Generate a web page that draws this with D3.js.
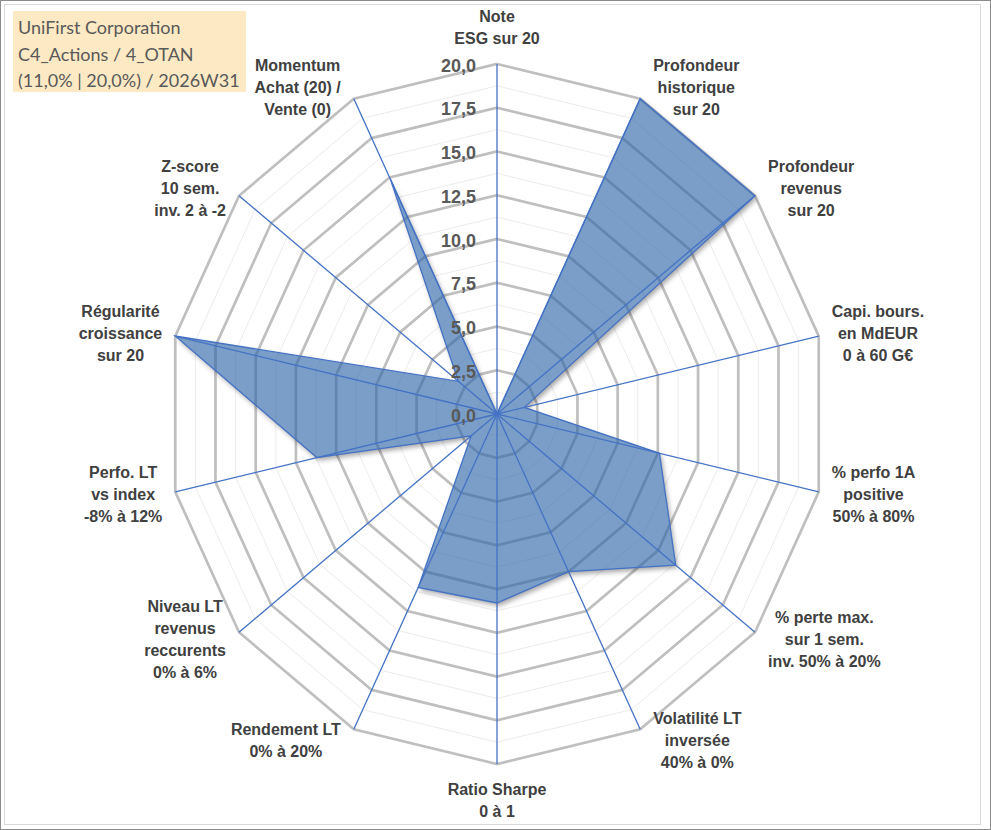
<!DOCTYPE html>
<html>
<head>
<meta charset="utf-8">
<script src="https://cdn.jsdelivr.net/npm/d3@7"></script>
<style>
  html, body { margin: 0; padding: 0; background: #fff; }
  svg { display: block; }
</style>
</head>
<body>
<svg id="chart" width="991" height="830"></svg>
<script>
// ---------------- DATA ----------------
const categories = [
  ["Note", "ESG sur 20"],
  ["Profondeur", "historique", "sur 20"],
  ["Profondeur", "revenus", "sur 20"],
  ["Capi. bours.", "en MdEUR", "0 à 60 G€"],
  ["% perfo 1A", "positive", "50% à 80%"],
  ["% perte max.", "sur 1 sem.", "inv. 50% à 20%"],
  ["Volatilité LT", "inversée", "40% à 0%"],
  ["Ratio Sharpe", "0 à 1"],
  ["Rendement LT", "0% à 20%"],
  ["Niveau LT", "revenus", "reccurents", "0% à 6%"],
  ["Perfo. LT", "vs index", "-8% à 12%"],
  ["Régularité", "croissance", "sur 20"],
  ["Z-score", "10 sem.", "inv. 2 à -2"],
  ["Momentum", "Achat (20) /", "Vente (0)"]
];
const values = [0, 20, 20, 1.7, 10.1, 13.85, 10.0, 10.8, 11.0, 2.0, 11.2, 20, 3.0, 14.9];
const tickValues = [0, 2.5, 5, 7.5, 10, 12.5, 15, 17.5, 20];
const minorStep = 1.25;
const titleLines = ["UniFirst Corporation", "C4_Actions / 4_OTAN", "(11,0% | 20,0%) / 2026W31"];

// ---------------- LAYOUT ----------------
const W = 991, H = 830;
const cx = 497, cy = 414, rx = 330, ry = 350;
const n = categories.length;
const svg = d3.select("#chart");
const fr = d3.formatLocale({decimal: ",", thousands: " ", grouping: [3], currency: ["", "€"]}).format(".1f");

const rScale = d3.scaleLinear().domain([0, 20]).range([0, 1]);
const aScale = d3.scaleLinear().domain([0, n]).range([0, 2 * Math.PI]);
const pt = (i, v) => {
  const a = aScale(i);
  return [cx + Math.sin(a) * rx * rScale(v), cy - Math.cos(a) * ry * rScale(v)];
};
const ring = d3.line().curve(d3.curveLinearClosed);

// frame
svg.append("rect").attr("x", 0.5).attr("y", 0.5).attr("width", W - 1).attr("height", H - 1)
  .attr("fill", "#fff").attr("stroke", "#8c8c8c").attr("stroke-width", 1);
svg.append("rect").attr("x", 4.5).attr("y", 4.5).attr("width", 976).attr("height", 820)
  .attr("fill", "none").attr("stroke", "#d9d9d9").attr("stroke-width", 1);

// shadow filter (shadow only outside the shape)
const defs = svg.append("defs");
const f = defs.append("filter").attr("id", "shadowOut").attr("x", "-10%").attr("y", "-10%").attr("width", "130%").attr("height", "130%");
f.append("feGaussianBlur").attr("in", "SourceAlpha").attr("stdDeviation", 2.5).attr("result", "blur");
f.append("feOffset").attr("in", "blur").attr("dx", 2).attr("dy", 3).attr("result", "off");
f.append("feComposite").attr("in", "off").attr("in2", "SourceAlpha").attr("operator", "out").attr("result", "sh");
f.append("feFlood").attr("flood-color", "#000").attr("flood-opacity", 0.35).attr("result", "col");
f.append("feComposite").attr("in", "col").attr("in2", "sh").attr("operator", "in");

// grid
const levels = d3.range(minorStep, 20 + 1e-6, minorStep);
const gGrid = svg.append("g");
levels.filter(l => Math.abs(l / 2.5 - Math.round(l / 2.5)) > 1e-6).forEach(l => {
  gGrid.append("path").attr("d", ring(d3.range(n).map(i => pt(i, l))))
    .attr("fill", "none").attr("stroke", "#ececec").attr("stroke-width", 1);
});
tickValues.filter(t => t > 0).forEach(l => {
  gGrid.append("path").attr("d", ring(d3.range(n).map(i => pt(i, l))))
    .attr("fill", "none").attr("stroke", "#bfbfbf").attr("stroke-width", 2.7);
});

// series
const seriesD = ring(values.map((v, i) => pt(i, v)));
svg.append("path").attr("d", seriesD).attr("fill", "#000").attr("filter", "url(#shadowOut)");
svg.append("path")
  .attr("d", seriesD)
  .attr("fill", "#2a63a6").attr("fill-opacity", 0.62)
  .attr("stroke", "#4472c4").attr("stroke-width", 1.3)
  .attr("stroke-linejoin", "miter");

// spokes
const gSp = svg.append("g");
d3.range(n).forEach(i => {
  const [x, y] = pt(i, 20);
  gSp.append("line").attr("x1", cx).attr("y1", cy).attr("x2", x).attr("y2", y)
    .attr("stroke", "#4472c4").attr("stroke-width", 1.3);
});

// tick labels
const gT = svg.append("g").attr("font-family", "'Liberation Sans', Arial, sans-serif")
  .attr("font-weight", "bold").attr("font-size", 18).attr("fill", "#595959");
tickValues.forEach(t => {
  gT.append("text").attr("x", cx - 21).attr("y", pt(0, t)[1] + 1.5)
    .attr("text-anchor", "end").attr("dominant-baseline", "central").text(fr(t));
});

// category labels
const gL = svg.append("g").attr("font-family", "'Liberation Sans', Arial, sans-serif")
  .attr("font-weight", "bold").attr("font-size", 16).attr("fill", "#404040");
const lh = 22, gap = 13;
categories.forEach((lines, i) => {
  const a = aScale(i);
  const s = Math.sin(a), c = Math.cos(a);
  const [vx, vy] = pt(i, 20);
  const t = gL.append("text").attr("text-anchor", "middle");
  const spans = lines.map((ln, k) => t.append("tspan").attr("x", 0).attr("y", 0).text(ln));
  const w = d3.max(spans, sp => sp.node().getComputedTextLength());
  const h = lines.length * lh;
  let lx, ly;
  if (Math.abs(s) < 1e-6) {
    lx = vx;
    ly = c > 0 ? vy - 15 - h / 2 : vy + 14 + h / 2;
  } else {
    lx = vx + Math.sign(s) * (gap + w / 2);
    ly = vy - c * 12;
  }
  spans.forEach((sp, k) => {
    sp.attr("x", lx).attr("y", ly + (k - (lines.length - 1) / 2) * lh).attr("dominant-baseline", "central");
  });
});

// title box
svg.append("rect").attr("x", 13).attr("y", 11).attr("width", 233).attr("height", 81).attr("fill", "#fde9c3");
const gTi = svg.append("g").attr("font-family", "Lato, 'Open Sans', sans-serif")
  .attr("font-size", 18).attr("fill", "#595959");
titleLines.forEach((ln, k) => {
  gTi.append("text").attr("x", 18).attr("y", 27 + k * 26.5).attr("dominant-baseline", "central").text(ln);
});
</script>
</body>
</html>
